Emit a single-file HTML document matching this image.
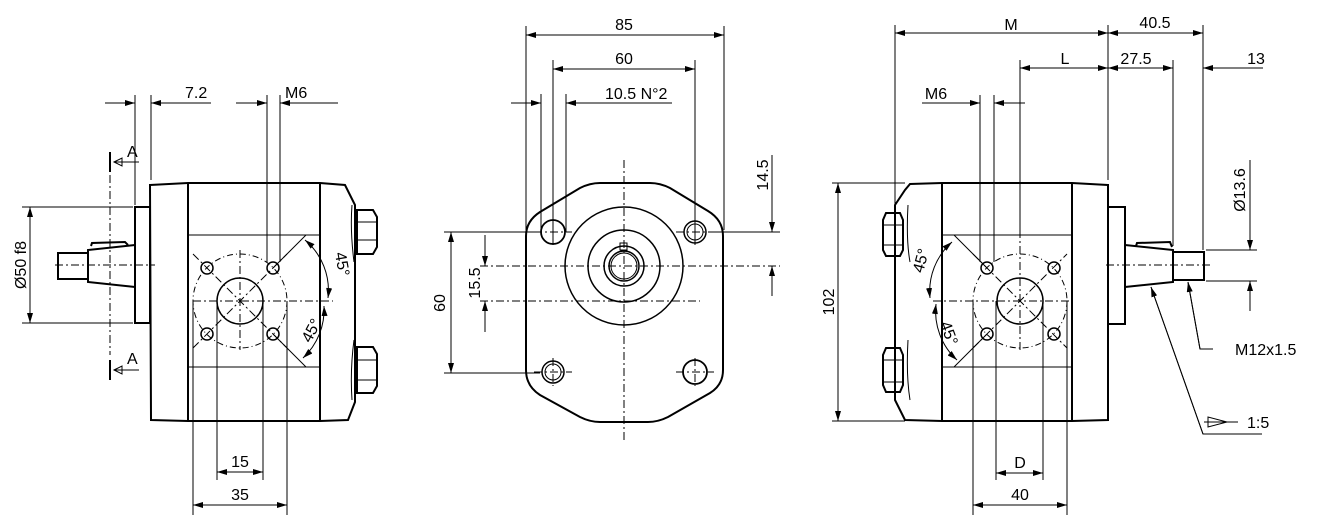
<!DOCTYPE html>
<html><head><style>
html,body{margin:0;padding:0;background:#fff;}
svg{display:block;}
text{font-family:"Liberation Sans",sans-serif;font-size:16px;fill:#000;}
</style></head><body>
<svg width="1324" height="523" viewBox="0 0 1324 523" xmlns="http://www.w3.org/2000/svg">
<defs>
<marker id="a" viewBox="0 0 10 6" refX="10" refY="3" markerWidth="10" markerHeight="6" orient="auto-start-reverse" markerUnits="userSpaceOnUse"><path d="M0,0 L10,3 L0,6 z" fill="#000"/></marker>
</defs>
<g fill="none" stroke="#000" stroke-width="1">
<g stroke-width="2">
<path d="M150,185 L188,183 L320,183 L345,185 L355,205 L355,402 L348,420 L320,421 L188,421 L151,420 Z"/>
<line x1="188" y1="183" x2="188" y2="421"/>
<line x1="320" y1="183" x2="320" y2="421"/>
<rect x="135" y="207" width="15" height="116"/>
<path d="M135,245 L88,250 L88,282 L135,287"/>
<rect x="58" y="253" width="30" height="26"/>
<path d="M91,246 L92,243 L125,242 L128,245"/>
<polygon points="357,210 373,210 377,217 377,247 373,254 357,254"/>
<polygon points="357,347 373,347 377,354 377,386 373,393 357,393"/>
</g>
<line x1="188" y1="235" x2="320" y2="235"/>
<line x1="188" y1="367" x2="320" y2="367"/>
<line x1="357" y1="222" x2="377" y2="222"/><line x1="357" y1="240" x2="377" y2="240"/>
<line x1="357" y1="360" x2="377" y2="360"/><line x1="357" y1="380" x2="377" y2="380"/>
<path d="M352,205 Q350,230 354,262"/><path d="M354,340 Q350,370 352,400"/>
<circle cx="240" cy="301" r="23" stroke-width="1.5"/>
<circle cx="240" cy="301" r="47" stroke-dasharray="6,3,1,3"/>
<g stroke-width="1.5">
<circle cx="207" cy="268" r="6"/><circle cx="273" cy="268" r="6"/>
<circle cx="207" cy="334" r="6"/><circle cx="273" cy="334" r="6"/>
</g>
<g stroke-dasharray="8,3,2,3">
<line x1="193" y1="254" x2="287" y2="348"/>
<line x1="193" y1="348" x2="287" y2="254"/>
<line x1="240" y1="250" x2="240" y2="350"/>
<line x1="193" y1="301" x2="333" y2="301"/>
<line x1="55" y1="265" x2="155" y2="265"/>
<line x1="110" y1="175" x2="110" y2="355"/>
</g>
<line x1="273" y1="268" x2="306" y2="235"/>
<line x1="273" y1="334" x2="306" y2="367"/>
<path d="M305,240 A66,66 0 0 1 328,298" marker-start="url(#a)" marker-end="url(#a)"/>
<path d="M324,306 A66,66 0 0 1 303,358" marker-start="url(#a)" marker-end="url(#a)"/>
<line x1="110" y1="152" x2="110" y2="172" stroke-width="2"/>
<line x1="110" y1="360" x2="110" y2="380" stroke-width="2"/>
<path d="M139,162 L114,162 M114,162 L122,158 L122,166 Z"/>
<path d="M139,370 L114,370 M114,370 L122,366 L122,374 Z"/>
<line x1="135" y1="95" x2="135" y2="205"/>
<line x1="151" y1="95" x2="151" y2="180"/>
<line x1="105" y1="103" x2="135" y2="103" marker-end="url(#a)"/>
<line x1="211" y1="103" x2="151" y2="103" marker-end="url(#a)"/>
<line x1="267" y1="95" x2="267" y2="262"/>
<line x1="280" y1="95" x2="280" y2="262"/>
<line x1="236" y1="103" x2="267" y2="103" marker-end="url(#a)"/>
<line x1="338" y1="103" x2="280" y2="103" marker-end="url(#a)"/>
<line x1="22" y1="207" x2="133" y2="207"/>
<line x1="22" y1="323" x2="133" y2="323"/>
<line x1="30" y1="207" x2="30" y2="323" marker-start="url(#a)" marker-end="url(#a)"/>
<line x1="193" y1="301" x2="193" y2="515"/>
<line x1="287" y1="301" x2="287" y2="515"/>
<line x1="217" y1="301" x2="217" y2="480"/>
<line x1="263" y1="301" x2="263" y2="480"/>
<line x1="217" y1="472" x2="263" y2="472" marker-start="url(#a)" marker-end="url(#a)"/>
<line x1="193" y1="505" x2="287" y2="505" marker-start="url(#a)" marker-end="url(#a)"/>

<path stroke-width="2" d="M600,183 L650,183 Q660,183 670,188 L708,211 Q723,220 723,236 L723,370 Q723,385 710,393 L668,417 Q658,422 648,422 L600,422 Q590,422 580,417 L540,395 Q526,386 526,370 L526,236 Q526,221 540,212 L580,188 Q590,183 600,183 Z"/>
<circle cx="624" cy="266" r="59" stroke-width="1.5"/>
<circle cx="624" cy="266" r="36" stroke-width="1.5"/>
<circle cx="624" cy="266" r="20" stroke-width="1.5"/>
<circle cx="624" cy="266" r="15" stroke-width="1.5"/>
<circle cx="624" cy="266" r="13"/>
<rect x="620" y="243" width="7" height="7"/>
<circle cx="553" cy="232" r="12" stroke-width="1.8"/>
<circle cx="695" cy="232" r="11" stroke-width="1.5"/><circle cx="695" cy="232" r="8"/>
<circle cx="553" cy="372" r="11" stroke-width="1.5"/><circle cx="553" cy="372" r="8"/>
<circle cx="695" cy="372" r="12" stroke-width="1.8"/>
<g stroke-dasharray="8,3,2,3">
<line x1="624" y1="160" x2="624" y2="440"/>
<line x1="480" y1="266" x2="780" y2="266"/>
<line x1="480" y1="301" x2="700" y2="301"/>
<line x1="534" y1="232" x2="572" y2="232"/>
<line x1="676" y1="232" x2="714" y2="232"/>
<line x1="534" y1="372" x2="572" y2="372"/>
<line x1="676" y1="372" x2="714" y2="372"/>
<line x1="553" y1="358" x2="553" y2="386"/>
<line x1="695" y1="358" x2="695" y2="386"/>
</g>
<line x1="526" y1="26" x2="526" y2="230"/>
<line x1="724" y1="26" x2="724" y2="230"/>
<line x1="526" y1="35" x2="724" y2="35" marker-start="url(#a)" marker-end="url(#a)"/>
<line x1="553" y1="60" x2="553" y2="245"/>
<line x1="695" y1="60" x2="695" y2="245"/>
<line x1="553" y1="69" x2="695" y2="69" marker-start="url(#a)" marker-end="url(#a)"/>
<line x1="541" y1="94" x2="541" y2="232"/>
<line x1="566" y1="94" x2="566" y2="232"/>
<line x1="511" y1="103" x2="541" y2="103" marker-end="url(#a)"/>
<line x1="672" y1="103" x2="566" y2="103" marker-end="url(#a)"/>
<line x1="444" y1="232" x2="540" y2="232"/>
<line x1="444" y1="373" x2="540" y2="373"/>
<line x1="708" y1="232" x2="780" y2="232"/>
<line x1="451" y1="232" x2="451" y2="373" marker-start="url(#a)" marker-end="url(#a)"/>
<line x1="485" y1="235" x2="485" y2="266" marker-end="url(#a)"/>
<line x1="485" y1="332" x2="485" y2="301" marker-end="url(#a)"/>
<line x1="772" y1="155" x2="772" y2="232" marker-end="url(#a)"/>
<line x1="772" y1="296" x2="772" y2="266" marker-end="url(#a)"/>

<g stroke-width="2">
<path d="M1108,185 L1072,183 L942,183 L910,184 L905,190 L895,205 L895,400 L905,420 L942,421 L1072,421 L1108,420 Z"/>
<line x1="942" y1="183" x2="942" y2="421"/>
<line x1="1072" y1="183" x2="1072" y2="421"/>
<rect x="1108" y="207" width="17" height="117"/>
<path d="M1125,245 L1173,250 L1173,282 L1125,287"/>
<rect x="1173" y="252" width="31" height="28"/>
<path d="M1136,246 L1137,243 L1170,242 L1172,247"/>
<polygon points="886,213 900,213 903,220 903,250 900,256 886,256 883,250 883,220"/>
<polygon points="886,348 900,348 903,355 903,385 900,392 886,392 883,385 883,355"/>
</g>
<line x1="942" y1="235" x2="1072" y2="235"/>
<line x1="942" y1="367" x2="1072" y2="367"/>
<line x1="883" y1="225" x2="903" y2="225"/><line x1="883" y1="245" x2="903" y2="245"/>
<line x1="883" y1="360" x2="903" y2="360"/><line x1="883" y1="382" x2="903" y2="382"/>
<path d="M908,205 Q906,240 910,262"/><path d="M908,340 Q906,375 910,400"/>
<circle cx="1020" cy="301" r="23" stroke-width="1.5"/>
<circle cx="1020" cy="301" r="47" stroke-dasharray="6,3,1,3"/>
<g stroke-width="1.5">
<circle cx="987" cy="268" r="6"/><circle cx="1054" cy="268" r="6"/>
<circle cx="987" cy="334" r="6"/><circle cx="1054" cy="334" r="6"/>
</g>
<g stroke-dasharray="8,3,2,3">
<line x1="973" y1="254" x2="1067" y2="348"/>
<line x1="973" y1="348" x2="1067" y2="254"/>
<line x1="1020" y1="230" x2="1020" y2="350"/>
<line x1="933" y1="301" x2="1069" y2="301"/>
<line x1="1106" y1="265" x2="1210" y2="265"/>
</g>
<line x1="987" y1="268" x2="954" y2="235"/>
<line x1="987" y1="334" x2="954" y2="367"/>
<path d="M952,242 A66,66 0 0 0 930,298" marker-start="url(#a)" marker-end="url(#a)"/>
<path d="M936,304 A66,66 0 0 0 957,360" marker-start="url(#a)" marker-end="url(#a)"/>
<line x1="895" y1="25" x2="895" y2="260"/>
<line x1="1108" y1="25" x2="1108" y2="180"/>
<line x1="1203" y1="25" x2="1203" y2="250"/>
<line x1="895" y1="33" x2="1108" y2="33" marker-start="url(#a)" marker-end="url(#a)"/>
<line x1="1108" y1="33" x2="1203" y2="33" marker-start="url(#a)" marker-end="url(#a)"/>
<line x1="1020" y1="60" x2="1020" y2="230"/>
<line x1="1173" y1="60" x2="1173" y2="246"/>
<line x1="1020" y1="68" x2="1108" y2="68" marker-start="url(#a)" marker-end="url(#a)"/>
<line x1="1108" y1="68" x2="1173" y2="68" marker-start="url(#a)" marker-end="url(#a)"/>
<line x1="1263" y1="68" x2="1203" y2="68" marker-end="url(#a)"/>
<line x1="980" y1="95" x2="980" y2="262"/>
<line x1="994" y1="95" x2="994" y2="262"/>
<line x1="922" y1="103" x2="980" y2="103" marker-end="url(#a)"/>
<line x1="1025" y1="103" x2="994" y2="103" marker-end="url(#a)"/>
<line x1="832" y1="183" x2="905" y2="183"/>
<line x1="832" y1="421" x2="905" y2="421"/>
<line x1="838" y1="183" x2="838" y2="421" marker-start="url(#a)" marker-end="url(#a)"/>
<line x1="1206" y1="250" x2="1257" y2="250"/>
<line x1="1206" y1="281" x2="1257" y2="281"/>
<line x1="1250" y1="160" x2="1250" y2="250" marker-end="url(#a)"/>
<line x1="1250" y1="311" x2="1250" y2="281" marker-end="url(#a)"/>
<line x1="973" y1="301" x2="973" y2="515"/>
<line x1="1067" y1="301" x2="1067" y2="515"/>
<line x1="996" y1="301" x2="996" y2="480"/>
<line x1="1043" y1="301" x2="1043" y2="480"/>
<line x1="996" y1="473" x2="1043" y2="473" marker-start="url(#a)" marker-end="url(#a)"/>
<line x1="973" y1="505" x2="1067" y2="505" marker-start="url(#a)" marker-end="url(#a)"/>
<polyline points="1213,349 1200,349 1188,282"/>
<line x1="1200" y1="349" x2="1188" y2="282" marker-end="url(#a)"/>
<polyline points="1262,434 1203,434 1151,287"/>
<line x1="1203" y1="434" x2="1151" y2="287" marker-end="url(#a)"/>
<path d="M1204,422 L1238,422 M1208,417 L1208,427 L1227,422 Z"/>
</g>
<text x="185" y="98">7.2</text>
<text x="285" y="98">M6</text>
<text x="127" y="157">A</text>
<text x="127" y="364">A</text>
<text transform="translate(26,265) rotate(-90)" text-anchor="middle">Ø50 f8</text>
<text transform="translate(337,265) rotate(80)" text-anchor="middle">45°</text>
<text transform="translate(316,333) rotate(-62)" text-anchor="middle">45°</text>
<text x="240" y="467" text-anchor="middle">15</text>
<text x="240" y="500" text-anchor="middle">35</text>
<text x="624" y="30" text-anchor="middle">85</text>
<text x="624" y="64" text-anchor="middle">60</text>
<text x="605" y="99">10.5 N°2</text>
<text transform="translate(445,303) rotate(-90)" text-anchor="middle">60</text>
<text transform="translate(480,283) rotate(-90)" text-anchor="middle">15.5</text>
<text transform="translate(768,175) rotate(-90)" text-anchor="middle">14.5</text>
<text x="1011" y="30" text-anchor="middle">M</text>
<text x="1155" y="28" text-anchor="middle">40.5</text>
<text x="1065" y="64" text-anchor="middle">L</text>
<text x="1136" y="64" text-anchor="middle">27.5</text>
<text x="1256" y="64" text-anchor="middle">13</text>
<text x="936" y="99" text-anchor="middle">M6</text>
<text transform="translate(834,302) rotate(-90)" text-anchor="middle">102</text>
<text transform="translate(1245,190) rotate(-90)" text-anchor="middle">Ø13.6</text>
<text transform="translate(926,262) rotate(-75)" text-anchor="middle">45°</text>
<text transform="translate(944,335) rotate(70)" text-anchor="middle">45°</text>
<text x="1020" y="468" text-anchor="middle">D</text>
<text x="1020" y="500" text-anchor="middle">40</text>
<text x="1235" y="355">M12x1.5</text>
<text x="1247" y="428">1:5</text>
</svg>
</body></html>
